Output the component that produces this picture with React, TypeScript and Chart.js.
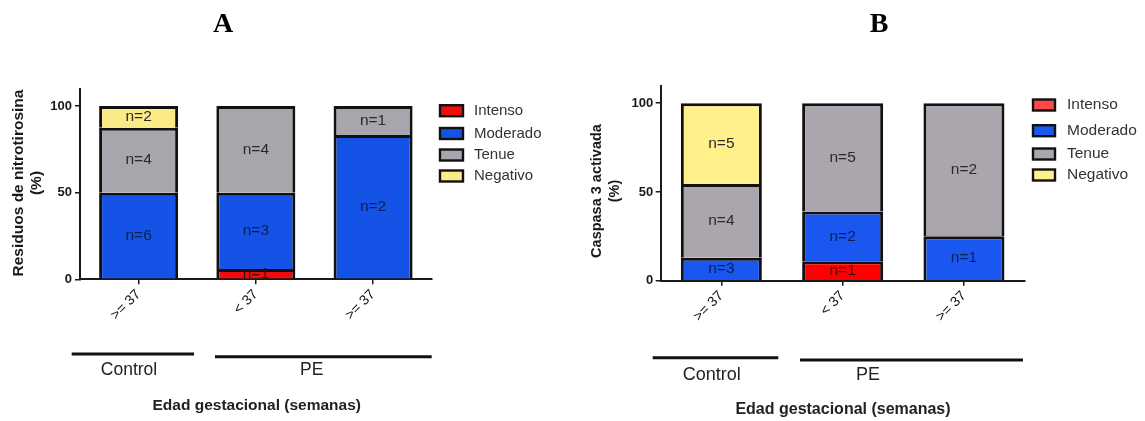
import { useEffect, useRef } from "react";
import { Chart, registerables } from "chart.js";

Chart.register(...registerables);

const SANS = "'Liberation Sans', Arial, Helvetica, sans-serif";
const SERIF = "'Liberation Serif', 'Times New Roman', serif";

// Shared categories, series names and y ticks
const ageGroups = [">= 37", "< 37", ">= 37"];
const grades = ["Intenso", "Moderado", "Tenue", "Negativo"];
const yTickValues = [0, 50, 100];

// Panel A: nitrotyrosine residues, percentage of cases per grade
const nitroIntenso = [null, 6, null];
const nitroModerado = [50, 44, 83.3];
const nitroTenue = [37.5, 50, 16.7];
const nitroNegativo = [12.5, null, null];
// number of cases per segment
const nitroIntensoN = [0, 1, 0];
const nitroModeradoN = [6, 3, 2];
const nitroTenueN = [4, 4, 1];
const nitroNegativoN = [2, 0, 0];

// Panel B: activated caspase 3, percentage of cases per grade
const caspIntenso = [null, 11, null];
const caspModerado = [13, 28, 25];
const caspTenue = [41.5, 61, 75];
const caspNegativo = [45.5, null, null];
const caspIntensoN = [0, 1, 0];
const caspModeradoN = [3, 2, 1];
const caspTenueN = [4, 5, 2];
const caspNegativoN = [5, 0, 0];

type GroupBar = { x1: number; x2: number; y: number; label: string; lx: number; ly: number };

type PanelSpec = {
  width: number;
  area: { left: number; right: number; top: number; bottom: number };
  barPct: number;
  series: (number | null)[][];
  counts: number[][];
  fills: string[];
  legendFills: string[];
  letter: { text: string; x: number; y: number };
  yTitle: { lines: string[]; xs: number[]; y: number; size: number };
  tickPad: number;
  legend: { boxX: number; boxW: number; boxH: number; textX: number; rows: number[]; size: number };
  groups: GroupBar[];
  groupSize: number;
  caption: { text: string; x: number; y: number; size: number };
};

const segmentTextColors = ["#3a0a0a", "#0f1f4f", "#2a2a2a", "#2a2a2a"];

const panelA: PanelSpec = {
  width: 572,
  area: { left: 80, right: 431.7, top: 88.7, bottom: 279.3 },
  barPct: 0.674,
  series: [nitroIntenso, nitroModerado, nitroTenue, nitroNegativo],
  counts: [nitroIntensoN, nitroModeradoN, nitroTenueN, nitroNegativoN],
  fills: ["#f20c0c", "#1552e6", "#a9a5ac", "#fbeb86"],
  legendFills: ["#f20c0c", "#1552e6", "#a9a5ac", "#fbeb86"],
  letter: { text: "A", x: 223, y: 31.5 },
  yTitle: { lines: ["Residuos de nitrotirosina", "(%)"], xs: [18.3, 36.7], y: 183, size: 15.5 },
  tickPad: 3,
  legend: { boxX: 440, boxW: 23, boxH: 11, textX: 474, rows: [110.7, 133.5, 155, 176], size: 15 },
  groups: [
    { x1: 71.7, x2: 194, y: 354, label: "Control", lx: 129, ly: 370 },
    { x1: 215, x2: 431.7, y: 356.7, label: "PE", lx: 311.7, ly: 370 },
  ],
  groupSize: 17.5,
  caption: { text: "Edad gestacional (semanas)", x: 256.7, y: 406, size: 15.5 },
};

const panelB: PanelSpec = {
  width: 573,
  area: { left: 88.7, right: 452.6, top: 85.5, bottom: 280.7 },
  barPct: 0.668,
  series: [caspIntenso, caspModerado, caspTenue, caspNegativo],
  counts: [caspIntensoN, caspModeradoN, caspTenueN, caspNegativoN],
  fills: ["#ff0000", "#1a56f0", "#aba5ae", "#fff08c"],
  legendFills: ["#ff4848", "#1a56f0", "#aba5ae", "#fff08c"],
  letter: { text: "B", x: 307, y: 31.5 },
  yTitle: { lines: ["Caspasa 3 activada", "(%)"], xs: [25, 43], y: 191, size: 14.5 },
  tickPad: 2.5,
  legend: { boxX: 461, boxW: 22, boxH: 11, textX: 495, rows: [105, 130.7, 154, 175], size: 15.5 },
  groups: [
    { x1: 80.7, x2: 206.3, y: 357.7, label: "Control", lx: 139.7, ly: 375 },
    { x1: 228, x2: 451, y: 360, label: "PE", lx: 296, ly: 375 },
  ],
  groupSize: 18,
  caption: { text: "Edad gestacional (semanas)", x: 271, y: 410, size: 16 },
};

function StackedPanel({ spec }: { spec: PanelSpec }) {
  const ref = useRef<HTMLCanvasElement>(null);

  useEffect(() => {
    const canvas = ref.current;
    if (!canvas) return;

    // Draws segment counts, panel letter, axis title, legend and group brackets
    const decor = {
      id: "panelDecor",
      afterDatasetsDraw(chart: any) {
        const ctx = chart.ctx as CanvasRenderingContext2D;
        const ca = chart.chartArea;
        ctx.save();
        ctx.beginPath();
        ctx.rect(ca.left, ca.top, ca.right - ca.left, ca.bottom - ca.top);
        ctx.clip();
        ctx.font = `15.5px ${SANS}`;
        ctx.textAlign = "center";
        ctx.textBaseline = "middle";
        chart.data.datasets.forEach((_ds: any, di: number) => {
          const meta = chart.getDatasetMeta(di);
          meta.data.forEach((el: any, j: number) => {
            const n = spec.counts[di][j];
            if (!n) return;
            const p = el.getProps(["x", "y", "base"], true);
            ctx.fillStyle = segmentTextColors[di];
            ctx.fillText(`n=${n}`, p.x, (p.y + p.base) / 2);
          });
        });
        ctx.restore();
      },
      afterDraw(chart: any) {
        const ctx = chart.ctx as CanvasRenderingContext2D;
        ctx.save();

        // panel letter
        ctx.fillStyle = "#000";
        ctx.font = `bold 28px ${SERIF}`;
        ctx.textAlign = "center";
        ctx.textBaseline = "alphabetic";
        ctx.fillText(spec.letter.text, spec.letter.x, spec.letter.y);

        // y axis title (rotated)
        ctx.font = `bold ${spec.yTitle.size}px ${SANS}`;
        ctx.fillStyle = "#1a1a1a";
        ctx.textBaseline = "middle";
        spec.yTitle.lines.forEach((line, i) => {
          ctx.save();
          ctx.translate(spec.yTitle.xs[i], spec.yTitle.y);
          ctx.rotate(-Math.PI / 2);
          ctx.fillText(line, 0, 0);
          ctx.restore();
        });

        // legend
        const lg = spec.legend;
        grades.forEach((name, i) => {
          const cy = lg.rows[i];
          ctx.fillStyle = spec.legendFills[i];
          ctx.fillRect(lg.boxX, cy - lg.boxH / 2, lg.boxW, lg.boxH);
          ctx.lineWidth = 2.4;
          ctx.strokeStyle = "#111";
          ctx.strokeRect(lg.boxX, cy - lg.boxH / 2, lg.boxW, lg.boxH);
          ctx.fillStyle = "#333";
          ctx.font = `${lg.size}px ${SANS}`;
          ctx.textAlign = "left";
          ctx.textBaseline = "middle";
          ctx.fillText(name, lg.textX, cy);
        });

        // group brackets and their labels
        spec.groups.forEach((g) => {
          ctx.beginPath();
          ctx.moveTo(g.x1, g.y);
          ctx.lineTo(g.x2, g.y);
          ctx.lineWidth = 3;
          ctx.strokeStyle = "#111";
          ctx.stroke();
          ctx.fillStyle = "#222";
          ctx.font = `${spec.groupSize}px ${SANS}`;
          ctx.textAlign = "center";
          ctx.textBaseline = "middle";
          ctx.fillText(g.label, g.lx, g.ly);
        });

        // x axis caption
        ctx.fillStyle = "#222";
        ctx.font = `bold ${spec.caption.size}px ${SANS}`;
        ctx.textAlign = "center";
        ctx.textBaseline = "middle";
        ctx.fillText(spec.caption.text, spec.caption.x, spec.caption.y);

        ctx.restore();
      },
    };

    const axisColor = "#1a1a1a";

    const chart = new Chart(canvas, {
      type: "bar",
      data: {
        labels: ageGroups,
        datasets: grades.map((g, i) => ({
          label: g,
          data: spec.series[i],
          backgroundColor: spec.fills[i],
          borderColor: "#111",
          borderWidth: 3,
          barPercentage: spec.barPct,
          categoryPercentage: 1,
        })),
      },
      options: {
        responsive: false,
        animation: false,
        devicePixelRatio: 1,
        layout: {
          padding: { left: 0, top: spec.area.top, right: spec.width - spec.area.right, bottom: 0 },
        },
        plugins: {
          legend: { display: false },
          tooltip: { enabled: false },
          title: { display: false },
        },
        scales: {
          x: {
            stacked: true,
            z: 1,
            border: { display: true, color: axisColor, width: 2 },
            grid: {
              display: true,
              drawOnChartArea: false,
              offset: false,
              tickLength: 5,
              color: axisColor,
              lineWidth: 1.5,
            },
            ticks: {
              autoSkip: false,
              maxRotation: 45,
              minRotation: 45,
              padding: 2,
              color: "#111",
              font: { family: SANS, size: 14 },
            },
            afterFit: (s: any) => {
              s.height = 421 - spec.area.bottom;
            },
          },
          y: {
            stacked: true,
            min: 0,
            max: 110,
            border: { display: true, color: axisColor, width: 2 },
            grid: {
              display: true,
              drawOnChartArea: false,
              tickLength: 5,
              color: axisColor,
              lineWidth: 1.5,
            },
            ticks: {
              padding: spec.tickPad,
              color: "#1a1a1a",
              font: { family: SANS, size: 13, weight: "bold" },
            },
            afterBuildTicks: (s: any) => {
              s.ticks = yTickValues.map((v) => ({ value: v }));
            },
            afterFit: (s: any) => {
              s.width = spec.area.left;
            },
          },
        },
      } as any,
      plugins: [decor],
    });

    return () => chart.destroy();
  }, [spec]);

  return <canvas ref={ref} width={spec.width} height={421} style={{ display: "block" }} />;
}

export default function App() {
  return (
    <div
      style={{
        position: "absolute",
        left: 0,
        top: 0,
        width: 1145,
        height: 421,
        background: "#fff",
        overflow: "hidden",
      }}
    >
      <div style={{ position: "absolute", left: 0, top: 0 }}>
        <StackedPanel spec={panelA} />
      </div>
      <div style={{ position: "absolute", left: 572, top: 0 }}>
        <StackedPanel spec={panelB} />
      </div>
    </div>
  );
}
